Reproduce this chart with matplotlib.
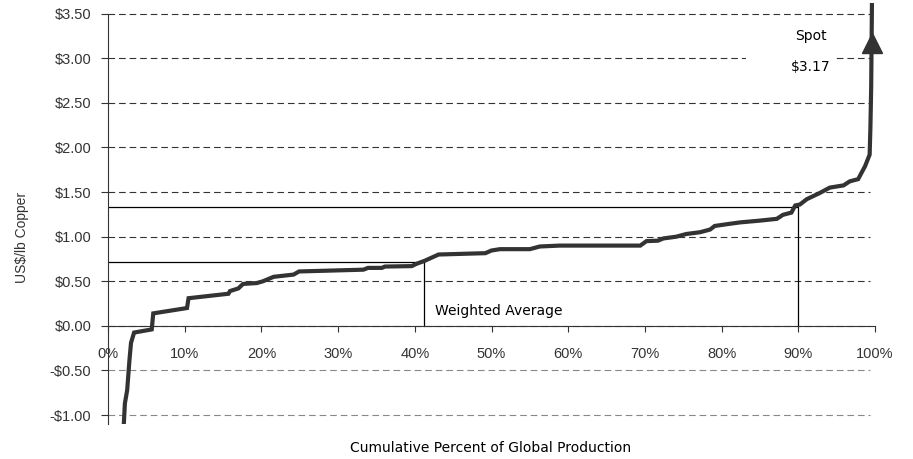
import matplotlib.pyplot as plt

# Cost curve: cumulative % of production vs cash cost
cum_pct = [2.0, 2.2, 2.5, 2.8, 3.0, 3.4, 5.7, 5.9, 10.3, 10.5, 15.7, 15.9, 17.0,
           17.6, 19.4, 20.2, 21.6, 24.2, 24.9, 33.3, 33.9, 35.7, 36.1, 39.6,
           40.2, 41.3, 43.1, 49.2, 50.0, 51.1, 55.0, 56.3, 58.9, 69.4, 70.2,
           71.7, 72.4, 74.1, 75.4, 77.2, 78.5, 79.1, 80.7, 82.4, 85.0, 87.2,
           88.0, 89.1, 89.6, 90.2, 91.1, 92.8, 94.1, 95.9, 96.7, 97.8, 98.7,
           99.3, 99.4, 99.5, 99.6]
cost = [-1.20, -0.87, -0.72, -0.38, -0.19, -0.075, -0.04, 0.14, 0.20, 0.31,
        0.36, 0.39, 0.42, 0.47, 0.48, 0.50, 0.55, 0.575, 0.61, 0.63, 0.65,
        0.65, 0.665, 0.67, 0.695, 0.73, 0.80, 0.815, 0.845, 0.86, 0.86, 0.89,
        0.90, 0.90, 0.95, 0.955, 0.98, 1.00, 1.03, 1.05, 1.08, 1.12, 1.14,
        1.16, 1.18, 1.20, 1.245, 1.27, 1.35, 1.36, 1.42, 1.49, 1.55, 1.575,
        1.62, 1.645, 1.79, 1.92, 2.23, 2.68, 3.62]

y_ticks = [-1.0, -0.5, 0.0, 0.5, 1.0, 1.5, 2.0, 2.5, 3.0, 3.5]
y_labels = ["-$1.00", "-$0.50", "$0.00", "$0.50", "$1.00", "$1.50",
            "$2.00", "$2.50", "$3.00", "$3.50"]
x_ticks = [0, 10, 20, 30, 40, 50, 60, 70, 80, 90, 100]
x_labels = ["0%", "10%", "20%", "30%", "40%", "50%", "60%", "70%", "80%",
            "90%", "100%"]

wavg_pct, wavg_cost = 41.2, 0.72
p90_pct, p90_cost = 90.0, 1.33
spot_pct, spot_price = 99.55, 3.17

fig = plt.figure(figsize=(9.13, 4.59), dpi=100)
ax = fig.add_axes([0.1183, 0.0763, 0.8401, 0.9172])
ax.set_xlim(0, 100)
ax.set_ylim(-1.1, 3.62)

# dashed grid lines
for v in y_ticks:
    col = "#888888" if v < 0 else "#333333"
    ax.plot([0, 99.3], [v, v], color=col, lw=0.8, dashes=(6, 3.5), zorder=1)

# reference lines
ax.plot([0, wavg_pct, wavg_pct], [wavg_cost, wavg_cost, 0], color="black", lw=0.9, zorder=2)
ax.plot([0, p90_pct, p90_pct], [p90_cost, p90_cost, 0], color="black", lw=0.9, zorder=2)

ax.plot(cum_pct, cost, color="#333333", lw=3, zorder=3, solid_joinstyle="miter")
ax.plot([spot_pct], [spot_price], marker="^", ms=15, color="#333333", zorder=4,
        clip_on=False)

ax.text(42.6, 0.17, "Weighted Average", fontsize=10, ha="left", va="center",
        family="DejaVu Sans")
ax.text(91.7, 3.25, "Spot", fontsize=10, ha="center", va="center",
        family="DejaVu Sans")
ax.text(94.2, 2.90, "$3.17", fontsize=10, ha="right", va="center",
        family="DejaVu Sans", zorder=2)
# white box behind the spot label breaks the $3.00 grid line
ax.fill_between([83.2, 94.6], 2.97, 3.03, color="white", lw=0, zorder=1.5)

# axes
for s in ["top", "right"]:
    ax.spines[s].set_visible(False)
ax.spines["bottom"].set_position(("data", 0))
ax.spines["left"].set_bounds(-1.1, 3.5)
ax.spines["left"].set_color("#333333")
ax.spines["bottom"].set_color("#333333")
ax.set_yticks(y_ticks)
ax.set_yticklabels(y_labels)
ax.set_xticks(x_ticks)
ax.set_xticklabels(x_labels)
ax.tick_params(axis="y", direction="out", length=5, pad=7, labelsize=10.5,
               colors="#333333")
ax.tick_params(axis="x", direction="out", length=4, pad=11, labelsize=10.5,
               colors="#333333")
for lab in ax.get_xticklabels() + ax.get_yticklabels():
    lab.set_family("Liberation Sans")

fig.text(22 / 913, 1 - 237 / 459, "US$/lb Copper", rotation=90, ha="center",
         va="center", fontsize=10, family="Liberation Sans", color="#333333")
fig.text(491 / 913, 1 - 448 / 459, "Cumulative Percent of Global Production",
         ha="center", va="center", fontsize=10, family="DejaVu Sans")

fig.savefig("out.png", dpi=100)
